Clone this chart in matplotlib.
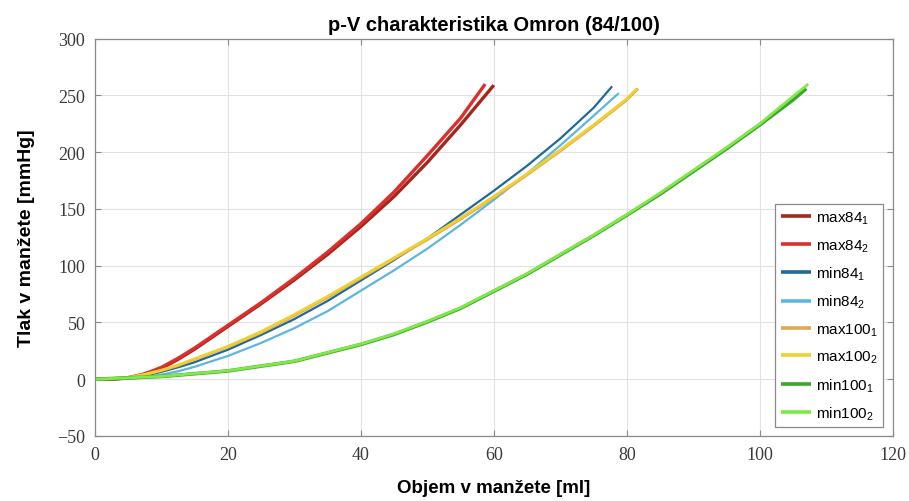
import matplotlib.pyplot as plt

plt.rcParams['font.family'] = 'Liberation Sans'
plt.rcParams['mathtext.default'] = 'regular'

# p-V curves (volume in ml, pressure in mmHg)
v_max84_1 = [0, 3, 5, 7, 8.5, 10, 12.5, 15, 17.5, 20, 25, 30, 35, 40, 45, 50, 55, 60]
p_max84_1 = [0, 0.2, 1, 3.3, 6, 9.5, 17.5, 26.5, 36.5, 46.5, 66.5, 87.5, 110, 134.5, 161, 191, 224, 259]

v_max84_2 = [0, 3, 5, 7, 8.5, 10, 12.5, 15, 17.5, 20, 25, 30, 35, 40, 45, 50, 55, 58.7]
p_max84_2 = [0, 0.3, 1.5, 4, 7, 10.5, 18.5, 27.5, 37.5, 47.5, 67.5, 89, 112, 137, 165, 197, 230, 260]

v_min84_1 = [0, 5, 7.5, 10, 12.5, 15, 20, 25, 30, 35, 40, 45, 50, 55, 60, 65, 70, 75, 77.8]
p_min84_1 = [0, 0.8, 3, 6.5, 10.5, 15, 26, 39, 53, 69, 87, 105, 124, 145, 166, 188, 212, 239, 258]

v_min84_2 = [0, 5, 7.5, 10, 12.5, 15, 20, 25, 30, 35, 40, 45, 50, 55, 60, 65, 70, 75, 78.8]
p_min84_2 = [0, 0.3, 1.7, 4, 7, 11, 20.5, 32, 45, 60, 78, 96, 115, 136, 158, 181, 206, 232, 252]

v_max100_1 = [0, 5, 7.5, 10, 12.5, 15, 20, 25, 30, 35, 40, 45, 50, 55, 60, 65, 70, 75, 80, 81.7]
p_max100_1 = [0, 1.3, 4, 7.6, 12, 17.5, 28.5, 41, 56, 72, 89, 106, 123, 141, 160, 180, 201, 223, 246, 256]

v_max100_2 = [0, 5, 7.5, 10, 12.5, 15, 20, 25, 30, 35, 40, 45, 50, 55, 60, 65, 70, 75, 80, 81.5]
p_max100_2 = [0, 1.5, 4.3, 8, 12.5, 18, 29, 42, 57, 73, 90, 107, 124, 142, 161, 181, 202, 224, 247, 256]

v_min100_1 = [0, 10, 20, 30, 40, 45, 50, 55, 60, 65, 70, 75, 80, 85, 90, 95, 100, 105, 107]
p_min100_1 = [0, 2.4, 7.3, 15.8, 30.6, 39.5, 50.5, 62.5, 77.5, 92.5, 109.5, 126.5, 144.5, 163, 183, 203, 224, 246, 256]

v_min100_2 = [0, 10, 20, 30, 40, 45, 50, 55, 60, 65, 70, 75, 80, 85, 90, 95, 100, 105, 107.3]
p_min100_2 = [0, 2.5, 7.5, 16, 31, 40, 51, 63, 78, 93, 110, 127, 145, 164, 184, 204, 225, 249, 260]

series = [
    ('max84$_1$', v_max84_1, p_max84_1, '#a3271c', 2.4),
    ('max84$_2$', v_max84_2, p_max84_2, '#dc2f2b', 2.4),
    ('min84$_1$', v_min84_1, p_min84_1, '#1f6a98', 1.6),
    ('min84$_2$', v_min84_2, p_min84_2, '#5cb6e0', 1.6),
    ('max100$_1$', v_max100_1, p_max100_1, '#e0a854', 2.0),
    ('max100$_2$', v_max100_2, p_max100_2, '#f0d030', 2.0),
    ('min100$_1$', v_min100_1, p_min100_1, '#3ea52c', 2.6),
    ('min100$_2$', v_min100_2, p_min100_2, '#80e848', 2.0),
]

fig = plt.figure(figsize=(9.09, 5.02), dpi=100)
ax = fig.add_axes([0.1045, 0.1295, 0.8775, 0.7915])

for label, v, p, color, lw in series:
    ax.plot(v, p, color=color, lw=lw, label=label, solid_capstyle='butt')

ax.set_xlim(0, 120)
ax.set_ylim(-50, 300)
ax.set_xticks(range(0, 121, 20))
ax.set_yticks(range(-50, 301, 50))
ax.grid(True, color='#e2e2e2', lw=0.8)
ax.set_axisbelow(True)

for s in ax.spines.values():
    s.set_color('#8a8a8a')
    s.set_linewidth(0.9)
ax.tick_params(direction='in', top=True, right=True, length=4, color='#8a8a8a',
               labelsize=13, labelcolor='#3a3a3a', pad=7)
for lab in ax.get_xticklabels() + ax.get_yticklabels():
    lab.set_fontfamily('Liberation Serif')

ax.set_title('p-V charakteristika Omron (84/100)', fontsize=14.5, fontweight='bold', pad=6)
ax.set_xlabel('Objem v manžete [ml]', fontsize=13.5, fontweight='bold', labelpad=12)
ax.set_ylabel('Tlak v manžete [mmHg]', fontsize=14, fontweight='bold', labelpad=16)

leg = ax.legend(loc='lower right', bbox_to_anchor=(0.988, 0.022), fontsize=11,
                handlelength=2.0, handletextpad=0.3, labelspacing=0.72,
                borderpad=0.35, borderaxespad=0, fancybox=False, framealpha=1)
leg.get_frame().set_edgecolor('#8a8a8a')
leg.get_frame().set_linewidth(0.9)
for line in leg.get_lines():
    line.set_linewidth(2.6)

fig.savefig('out.png', dpi=100)
